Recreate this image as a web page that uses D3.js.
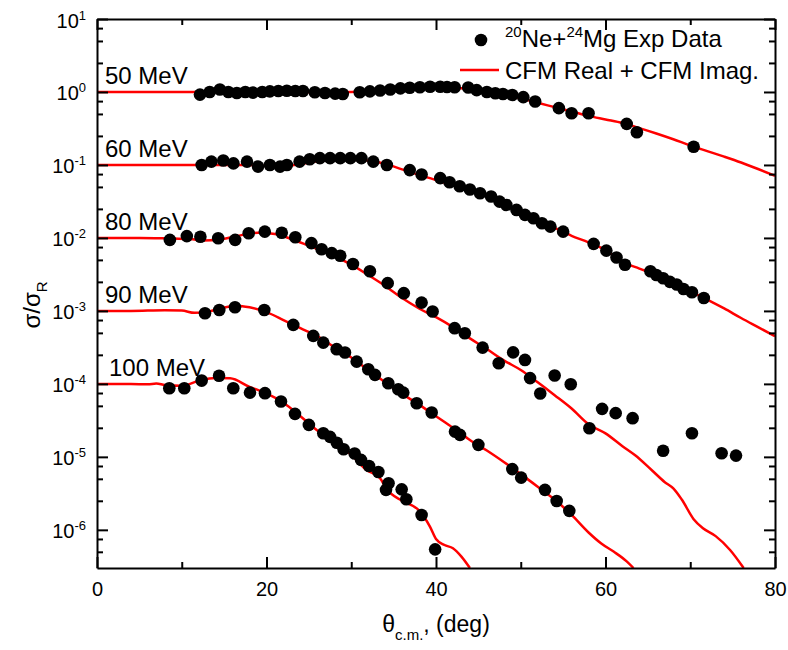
<!DOCTYPE html>
<html>
<head>
<meta charset="utf-8">
<script src="https://cdn.jsdelivr.net/npm/d3@7"></script>
<style>
  body { margin: 0; background: #fff; }
  svg text { font-family: Arial, "Liberation Sans", sans-serif; fill: #000; }
</style>
</head>
<body>
<div id="chart"></div>
<script>
// energy labels
const energies = ["50 MeV", "60 MeV", "80 MeV", "90 MeV", "100 MeV"];
const norms = [1, 0.1, 0.01, 0.001, 0.0001];

// experimental points  [theta_cm, sigma/sigma_R]
const exp50 = [[12.15,0.92],[13.3,1.0],[14.5,1.08],[15.5,1.0],[16.5,0.97],[17.5,1.0],[18.4,0.98],[19.5,1.0],
  [20.4,1.02],[21.4,1.03],[22.4,1.04],[23.4,1.03],[24.3,1.03],[25.7,0.99],[26.9,0.97],[28.1,0.95],[29.0,0.94],
  [31.0,0.99],[32.2,1.02],[33.4,1.05],[34.6,1.08],[35.8,1.12],[36.9,1.14],[38.1,1.16],[39.3,1.18],[40.5,1.18],
  [41.3,1.17],[42.2,1.16],[43.8,1.15],[44.8,1.06],[46.0,1.0],[47.0,0.96],[47.9,0.94],[49.0,0.91],[50.3,0.85],
  [51.7,0.74],[54.5,0.60],[56.0,0.51],[58.0,0.51],[62.5,0.365],[63.7,0.28],[70.4,0.178]];
const exp60 = [[12.35,0.1],[13.5,0.111],[14.9,0.115],[16.1,0.105],[17.7,0.111],[19.0,0.095],[20.4,0.1],[21.6,0.095],
  [22.4,0.1],[23.9,0.111],[25.1,0.12],[26.3,0.124],[27.5,0.124],[28.7,0.124],[29.9,0.124],[31.2,0.124],[32.6,0.111],
  [34.2,0.1],[36.9,0.085],[38.3,0.074],[40.5,0.066],[41.6,0.058],[42.8,0.051],[44.0,0.046],[45.2,0.041],[46.5,0.037],
  [47.5,0.0314],[48.3,0.0283],[49.5,0.0242],[50.5,0.0207],[51.5,0.0186],[52.5,0.0159],[53.5,0.0143],[55.0,0.0122],
  [58.6,0.0083],[60.1,0.0067],[61.3,0.0054],[62.3,0.0043],[65.3,0.0035],[66.0,0.0031],[66.8,0.0028],[67.6,0.0025],
  [68.4,0.0023],[69.2,0.0020],[70.2,0.0018],[71.6,0.0015]];
const exp80 = [[8.6,0.0094],[10.6,0.0106],[12.2,0.0104],[14.3,0.0099],[16.3,0.0094],[17.9,0.0116],[19.8,0.0122],
  [21.8,0.0118],[23.4,0.0102],[25.3,0.0085],[26.5,0.0070],[27.7,0.0062],[28.7,0.0057],[30.2,0.0044],[32.2,0.0035],
  [34.3,0.0024],[36.2,0.00175],[38.3,0.0013],[39.6,0.00098],[42.2,0.00058],[43.4,0.000495],[45.5,0.000314],
  [47.4,0.000192],[49.1,0.00027],[50.5,0.000213],[51.1,0.00012],[52.3,0.000074],[54.0,0.00013],[55.9,0.000099],
  [58.1,0.0000247],[59.6,0.0000455],[61.2,0.0000397],[63.2,0.0000339],[66.8,0.0000121],[70.2,0.0000211],
  [73.7,0.0000112],[75.4,0.0000104]];
const exp90 = [[12.74,0.00093],[14.43,0.00103],[16.28,0.00112],[19.74,0.00103],[23.16,0.000643],[25.52,0.000455],
  [26.7,0.000368],[28.28,0.000299],[29.26,0.000269],[30.64,0.000202],[32.01,0.000159],[32.8,0.000133],
  [34.37,0.000102],[35.55,0.0000846],[36.14,0.000076],[37.72,0.0000544],[39.49,0.0000405],[42.24,0.0000222],
  [42.83,0.00002],[45.0,0.0000146],[49.0,0.0000068],[50.05,0.0000052],[52.86,0.00000353],[54.24,0.00000248],
  [55.73,0.00000182]];
const exp100 = [[8.53,0.000087],[10.3,0.000087],[12.35,0.000111],[14.4,0.000129],[16.08,0.000087],[18.05,0.000076],
  [19.82,0.0000746],[21.71,0.0000573],[23.36,0.0000388],[25.0,0.0000274],[26.7,0.0000211],[27.5,0.0000188],
  [28.3,0.0000156],[29.1,0.0000127],[30.4,0.0000111],[31.15,0.0000091],[32.1,0.0000075],[33.2,0.0000062],
  [34.4,0.00000434],[34.1,0.00000353],[35.95,0.00000359],[36.5,0.00000262],[38.3,0.0000016],[39.9,0.00000054]];

// CFM Real + CFM Imag. curves
const cfm50 = [[0,1.0],[10,1.0],[20,1.0],[25,0.99],[30,1.0],[33,1.05],[36,1.1],[39,1.13],[42,1.13],[44,1.1],
  [46,1.02],[48,0.92],[50,0.82],[52,0.71],[54,0.62],[56,0.54],[58,0.47],[60,0.42],[62,0.375],[64,0.32],
  [66,0.27],[68,0.225],[70,0.185],[72,0.155],[74,0.13],[76,0.108],[78,0.088],[80,0.071]];
const cfm60 = [[0,0.1],[5,0.1],[10,0.1],[15,0.1],[18,0.1],[20,0.097],[22,0.097],[24,0.103],[26,0.112],[28,0.117],
  [30,0.118],[32,0.115],[34,0.104],[36,0.087],[38,0.073],[40,0.062],[42,0.053],[44,0.046],[46,0.039],[48,0.030],
  [50,0.0225],[52,0.0172],[54,0.0137],[56,0.0107],[58,0.0087],[60,0.0068],[62,0.0047],[64,0.0038],[66,0.0031],
  [68,0.0024],[70,0.00185],[72,0.00143],[74,0.00108],[76,0.0008],[78,0.0006],[80,0.00045]];
const cfm80 = [[0,0.01],[5,0.01],[9,0.0098],[11,0.0097],[12.5,0.0092],[14.5,0.0095],[16.5,0.0106],[19,0.0118],
  [21,0.0113],[23,0.0096],[25,0.0078],[27.5,0.006],[30,0.0043],[32,0.0031],[34,0.0022],[36,0.0015],[38,0.00108],
  [40,0.00082],[42,0.0006],[44,0.00042],[46,0.0003],[48,0.00021],[50,0.000155],[52,0.000105],[54,0.00007],
  [56,0.000046],[58,0.000028],[60,0.000021],[62,0.000014],[63.5,0.0000105],[65.5,0.0000065],[67,0.0000045],
  [68,0.0000037],[69,0.0000026],[70.4,0.0000014],[71.5,0.00000105],[73,0.00000082],[74.7,0.00000053],[76.3,0.0000003]];
const cfm90 = [[0,0.001],[4,0.001],[8,0.00102],[10,0.00101],[11.5,0.00094],[13,0.00097],[14.5,0.00108],[16.5,0.00118],
  [18,0.00112],[20,0.00096],[22,0.00075],[24,0.00058],[26,0.00045],[28,0.00032],[30,0.00023],[32,0.000155],
  [34,0.000105],[36,0.000073],[38,0.000052],[40,0.000036],[42,0.000025],[44,0.000017],[46,0.0000122],
  [48,0.0000085],[50,0.0000058],[52,0.0000039],[54,0.0000026],[56,0.0000016],[58,0.00000092],[59.5,0.00000065],
  [61,0.0000005],[62.5,0.00000037],[63.3,0.0000003]];
const cfm100 = [[0,0.0001],[4,0.0001],[6,0.0000985],[7,0.000101],[8,0.0000965],[10,0.000094],[12,0.00011],
  [14,0.00012],[15.7,0.000119],[18,0.000091],[20,0.000074],[22,0.000055],[24,0.000036],[26,0.000023],
  [28,0.0000163],[30,0.0000107],[31.8,0.0000066],[33.4,0.0000051],[34.2,0.0000036],[36,0.0000025],
  [38,0.00000184],[38.6,0.0000015],[39.3,0.0000011],[40,0.00000075],[41,0.00000062],[42,0.00000056],
  [43,0.00000043],[44,0.0000003]];

const expSets = [exp50, exp60, exp80, exp90, exp100];
const cfmSets = [cfm50, cfm60, cfm80, cfm90, cfm100];

// ticks
const xMajor = [0, 20, 40, 60, 80];
const xMinor = [10, 30, 50, 70];
const yMajor = [1e-6, 1e-5, 1e-4, 1e-3, 1e-2, 1e-1, 1, 10];
const yExp = ["-6", "-5", "-4", "-3", "-2", "-1", "0", "1"];
const yMinor = [];
[-7, -6, -5, -4, -3, -2, -1, 0].forEach(k => {
    [2.5, 5, 7.5].forEach(m => {
        const v = m * Math.pow(10, k);
        if (v > 3e-7 && v < 10) yMinor.push(v);
    });
});

const W = 788, H = 650;
const margin = {top: 19, right: 13, bottom: 82, left: 97};
const width = W - margin.left - margin.right;
const height = H - margin.top - margin.bottom;

const svg = d3.select("#chart").append("svg")
    .attr("width", W)
    .attr("height", H);

const g = svg.append("g")
    .attr("transform", `translate(${margin.left},${margin.top})`);

const x = d3.scaleLinear().domain([0, 80]).range([0, width]);
const y = d3.scaleLog().domain([3e-7, 10]).range([height, 0]);

// clip for curves
svg.append("defs").append("clipPath").attr("id", "plotclip")
    .append("rect").attr("width", width).attr("height", height);

// curves
const line = d3.line()
    .x(d => x(d[0]))
    .y(d => y(d[1]))
    .curve(d3.curveMonotoneX);

g.append("g").attr("clip-path", "url(#plotclip)")
    .selectAll("path.cfm")
    .data(cfmSets)
    .enter().append("path")
    .attr("class", "cfm")
    .attr("d", line)
    .attr("fill", "none")
    .attr("stroke", "#ff0000")
    .attr("stroke-width", 2.5);

// data points
expSets.forEach(set => {
    g.append("g").selectAll("circle")
        .data(set)
        .enter().append("circle")
        .attr("cx", d => x(d[0]))
        .attr("cy", d => y(d[1]))
        .attr("r", 6.3)
        .attr("fill", "#000");
});

// axes
function styleAxis(sel) {
    sel.select(".domain").attr("stroke", "#000").attr("stroke-width", 2);
    sel.selectAll(".tick line").attr("stroke", "#000").attr("stroke-width", 2);
}

const xBottom = g.append("g").attr("transform", `translate(0,${height})`)
    .call(d3.axisBottom(x).tickValues(xMajor).tickSize(-11).tickSizeOuter(0).tickPadding(14).tickFormat(d3.format("d")));
xBottom.selectAll("text").attr("font-size", 20);
styleAxis(xBottom);
const xBottomMinor = g.append("g").attr("transform", `translate(0,${height})`)
    .call(d3.axisBottom(x).tickValues(xMinor).tickSize(-6).tickFormat(""));
xBottomMinor.select(".domain").remove();
styleAxis(xBottomMinor);

const xTop = g.append("g")
    .call(d3.axisTop(x).tickValues(xMajor).tickSize(-11).tickSizeOuter(0).tickFormat(""));
styleAxis(xTop);
const xTopMinor = g.append("g")
    .call(d3.axisTop(x).tickValues(xMinor).tickSize(-6).tickFormat(""));
xTopMinor.select(".domain").remove();
styleAxis(xTopMinor);

const yLeft = g.append("g")
    .call(d3.axisLeft(y).tickValues(yMajor).tickSize(-11).tickSizeOuter(0).tickPadding(11));
styleAxis(yLeft);
yLeft.selectAll(".tick text")
    .attr("font-size", 20)
    .attr("dy", "0.4em")
    .each(function(d) {
        const t = d3.select(this);
        t.text(null);
        t.append("tspan").text("10");
        t.append("tspan").attr("dy", -8).attr("font-size", 13).text(yExp[yMajor.indexOf(d)]);
    });
const yLeftMinor = g.append("g")
    .call(d3.axisLeft(y).tickValues(yMinor).tickSize(-6).tickFormat(""));
yLeftMinor.select(".domain").remove();
styleAxis(yLeftMinor);

const yRight = g.append("g").attr("transform", `translate(${width},0)`)
    .call(d3.axisRight(y).tickValues(yMajor).tickSize(-11).tickSizeOuter(0).tickFormat(""));
styleAxis(yRight);
const yRightMinor = g.append("g").attr("transform", `translate(${width},0)`)
    .call(d3.axisRight(y).tickValues(yMinor).tickSize(-6).tickFormat(""));
yRightMinor.select(".domain").remove();
styleAxis(yRightMinor);

// energy labels
g.selectAll(".elabel")
    .data(energies)
    .enter().append("text")
    .attr("class", "elabel")
    .attr("x", (d, i) => x(0) + (i === 4 ? 12 : 8))
    .attr("y", (d, i) => y(norms[i]) - 8)
    .attr("font-size", 24)
    .text(d => d);

// axis titles
const xt = svg.append("text")
    .attr("x", margin.left + width / 2)
    .attr("y", 632)
    .attr("text-anchor", "middle")
    .attr("font-size", 23);
xt.append("tspan").text("θ");
xt.append("tspan").attr("font-size", 15).attr("dy", 8).text("c.m.");
xt.append("tspan").attr("dy", -8).text(", (deg)");

const yt = svg.append("text")
    .attr("transform", `translate(40,305) rotate(-90)`)
    .attr("text-anchor", "middle")
    .attr("font-size", 24);
yt.append("tspan").text("σ/σ");
yt.append("tspan").attr("font-size", 15).attr("dy", 7).text("R");

// legend
const legend = svg.append("g").attr("class", "legend");
legend.append("circle").attr("cx", 481).attr("cy", 40).attr("r", 6.3).attr("fill", "#000");
const l1 = legend.append("text").attr("x", 505).attr("y", 47).attr("font-size", 24);
l1.append("tspan").attr("font-size", 15).attr("dy", -10).text("20");
l1.append("tspan").attr("dy", 10).text("Ne+");
l1.append("tspan").attr("font-size", 15).attr("dy", -10).text("24");
l1.append("tspan").attr("dy", 10).text("Mg Exp Data");
legend.append("line").attr("x1", 460).attr("x2", 499).attr("y1", 70).attr("y2", 70)
    .attr("stroke", "#ff0000").attr("stroke-width", 2.5);
legend.append("text").attr("x", 505).attr("y", 79).attr("font-size", 24).text("CFM Real + CFM Imag.");
</script>
</body>
</html>
